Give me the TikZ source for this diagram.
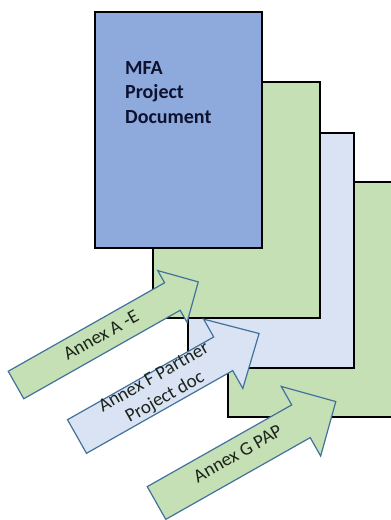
\documentclass[tikz,border=0pt]{standalone}
\usepackage{fontspec}
\setmainfont{Carlito}
\definecolor{docblue}{RGB}{142,169,219}
\definecolor{docgreen}{RGB}{197,224,180}
\definecolor{docpale}{RGB}{218,227,243}
\definecolor{arrowline}{RGB}{65,113,156}
\definecolor{titleink}{RGB}{12,18,48}
\definecolor{labelink}{RGB}{28,36,28}
\begin{document}
\begin{tikzpicture}[x=1pt,y=-1pt,
  page/.style={draw=black, line width=2.5pt, anchor=north west, inner sep=0pt, outer sep=0pt},
  annex/.style={draw=arrowline, line width=1.2pt, line join=miter},
  titletext/.style={anchor=base west, inner sep=0pt, text=titleink,
    font=\bfseries\fontsize{20}{25}\selectfont},
  labeltext/.style={inner sep=0pt, rotate=29.5, align=center, text=labelink,
    font=\fontsize{19}{22.5}\selectfont}]
\useasboundingbox (0,0) rectangle (391,520);
\clip (0,0) rectangle (391,520);

% stacked pages, back to front
\node[page, fill=docgreen, minimum width=172pt, minimum height=235pt] (annexGpage) at (228,182) {};
\node[page, fill=docpale,  minimum width=166pt, minimum height=235pt] (annexFpage) at (188,133) {};
\node[page, fill=docgreen, minimum width=167pt, minimum height=236pt] (annexAEpage) at (153,82) {};
\node[page, fill=docblue,  minimum width=167pt, minimum height=236pt] (mfapage) at (95,12) {};

% title on the front page
\node[titletext] (titleA) at (125,74) {MFA};
\node[titletext] (titleB) at (125,98.5) {Project};
\node[titletext] (titleC) at (125,123) {Document};

% block arrows feeding the annexes
\begin{scope}[shift={(16,385)}, rotate=29.5]
  \draw[annex, fill=docgreen] (0,-15.8) -- (179.7,-15.8) -- (179.7,-29.8) -- (209.4,0)
    -- (179.7,29.8) -- (179.7,15.8) -- (0,15.8) -- cycle;
  \node[labeltext] (annexAE) at (98.5,-1.4) {Annex A -E};
\end{scope}

\begin{scope}[shift={(77,436.5)}, rotate=29.5]
  \draw[annex, fill=docpale] (0,-19.3) -- (168,-19.3) -- (168,-39.8) -- (209.2,0)
    -- (168,39.8) -- (168,19.3) -- (0,19.3) -- cycle;
  \node[labeltext] (annexF) at (96,-1.5) {Annex F Partner\\Project doc};
\end{scope}

\begin{scope}[shift={(156.5,503)}, rotate=29.5]
  \draw[annex, fill=docgreen] (0,-18.8) -- (166,-18.8) -- (166,-40) -- (206,0)
    -- (166,40) -- (166,18.8) -- (0,18.8) -- cycle;
  \node[labeltext] (annexG) at (95,-3) {Annex G PAP};
\end{scope}
\end{tikzpicture}
\end{document}
